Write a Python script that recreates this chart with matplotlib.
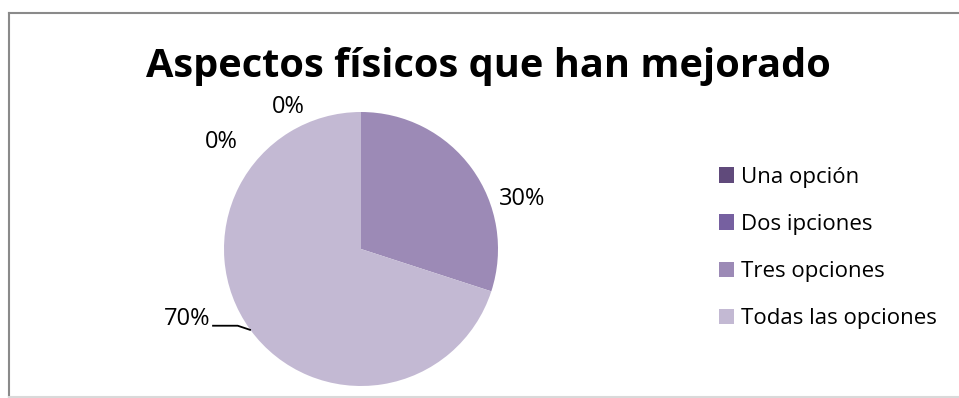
import matplotlib
matplotlib.use('Agg')
import matplotlib.pyplot as plt
from matplotlib.lines import Line2D

plt.rcParams['font.family'] = ['Open Sans', 'DejaVu Sans']

title = 'Aspectos físicos que han mejorado'
categories = ['Una opción', 'Dos ipciones', 'Tres opciones', 'Todas las opciones']
values = [0, 0, 30, 70]
colors = ['#604a7b', '#7660a0', '#9c8ab6', '#c3b9d3']

# where each percentage label sits (pie radius = 1)
label_pos = [(-0.53, 1.04), (-1.02, 0.78), (1.175, 0.365), (-1.27, -0.51)]

W, H = 959, 398
fig = plt.figure(figsize=(W / 100, H / 100), dpi=100)

# axes sized so one data unit is 137 px, pie centred at (361, 249) from top-left
R = 137
cx, cy = 361, 249
ax = fig.add_axes([(cx - 2 * R) / W, (H - cy - 2 * R) / H, 4 * R / W, 4 * R / H])
wedges, _ = ax.pie(values, colors=colors, startangle=90, counterclock=False,
                   radius=1, wedgeprops=dict(linewidth=0))
ax.set_xlim(-2, 2)
ax.set_ylim(-2, 2)
ax.set_aspect('equal')
ax.axis('off')

total = sum(values)
for v, (x, y) in zip(values, label_pos):
    ax.text(x, y, '%d%%' % round(100 * v / total), ha='center', va='center',
            fontsize=17, color='black')

# leader line for the big slice
ax.plot([-1.08, -0.90, -0.81], [-0.56, -0.56, -0.59], color='black', lw=1.3)

fig.text(488 / W, 1 - 77 / H, title, ha='center', va='baseline',
         fontsize=28.6, fontweight='bold', color='black')

fig.legend(wedges, categories, loc='center left',
           bbox_to_anchor=(719 / W, 1 - 248 / H), frameon=False,
           fontsize=16, labelspacing=1.18,
           handlelength=0.68, handleheight=0.68, handletextpad=0.3,
           borderpad=0, borderaxespad=0)

# chart frame: grey left/top edge, pale bottom edge
fig.add_artist(Line2D([8.5 / W, 8.5 / W], [1 - 396.5 / H, 1 - 12.5 / H],
                      transform=fig.transFigure, color='#8a8a8a', lw=1.5))
fig.add_artist(Line2D([8.5 / W, 1.0], [1 - 12.5 / H, 1 - 12.5 / H],
                      transform=fig.transFigure, color='#8a8a8a', lw=1.5))
fig.add_artist(Line2D([8.5 / W, 1.0], [1 - 396.5 / H, 1 - 396.5 / H],
                      transform=fig.transFigure, color='#d9d9d9', lw=1.5))

fig.savefig('out.png', dpi=100)
